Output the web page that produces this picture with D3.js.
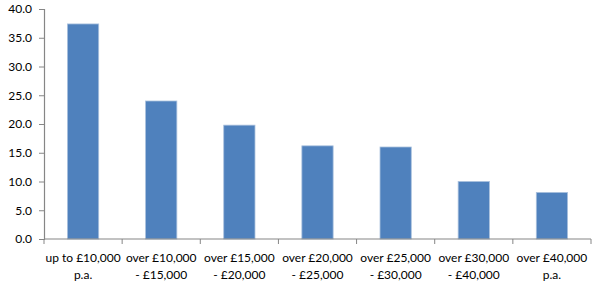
<!DOCTYPE html>
<html>
<head>
<meta charset="utf-8">
<script src="https://cdn.jsdelivr.net/npm/d3@7"></script>
<style>
  body { margin: 0; background: #fff; }
  svg text { font-family: Lato, "Open Sans", sans-serif; fill: #000; }
</style>
</head>
<body>
<div id="chart"></div>
<script>
const categories = [
    ["up to £10,000", "p.a."],
    ["over £10,000", "- £15,000"],
    ["over £15,000", "- £20,000"],
    ["over £20,000", "- £25,000"],
    ["over £25,000", "- £30,000"],
    ["over £30,000", "- £40,000"],
    ["over £40,000", "p.a."]
];
const values = [37.4, 24.0, 19.8, 16.2, 16.0, 10.0, 8.1];
const yTicks = [0, 5, 10, 15, 20, 25, 30, 35, 40];

const w = 601, h = 287;
const xLeft = 44, xRight = 591, yTop = 9, yBottom = 239;

const svg = d3.select("#chart").append("svg")
    .attr("width", w)
    .attr("height", h);

const xScale = d3.scaleBand()
    .domain(d3.range(categories.length))
    .range([xLeft, xRight])
    .paddingInner(0.6)
    .paddingOuter(0.3);

const yScale = d3.scaleLinear()
    .domain([0, 40])
    .range([yBottom, yTop]);

svg.selectAll("rect.bar")
    .data(values)
    .enter()
    .append("rect")
    .attr("class", "bar")
    .attr("x", (d, i) => xScale(i))
    .attr("y", d => yScale(d))
    .attr("width", xScale.bandwidth())
    .attr("height", d => yBottom - yScale(d))
    .style("fill", "#4f81bd")
    .style("stroke", "#a9c0dd")
    .style("stroke-width", 0.8);

const yAxis = d3.axisLeft(yScale)
    .tickValues(yTicks)
    .tickFormat(d3.format(".1f"))
    .tickSize(5)
    .tickPadding(7);

const gy = svg.append("g")
    .attr("transform", `translate(${xLeft},0)`)
    .call(yAxis);
gy.select(".domain").attr("stroke", "#868686").attr("stroke-width", 1.2);
gy.selectAll(".tick line").attr("stroke", "#868686");
gy.selectAll(".tick text").style("font-size", "12px");

// x axis: band boundaries as ticks
const bandStep = (xRight - xLeft) / categories.length;
const xLine = svg.append("g");
xLine.append("line")
    .attr("x1", xLeft).attr("x2", xRight)
    .attr("y1", yBottom).attr("y2", yBottom)
    .attr("stroke", "#868686").attr("stroke-width", 1.2);
xLine.selectAll("line.tick")
    .data(d3.range(categories.length + 1))
    .enter().append("line")
    .attr("class", "tick")
    .attr("x1", i => xLeft + i * bandStep)
    .attr("x2", i => xLeft + i * bandStep)
    .attr("y1", yBottom)
    .attr("y2", yBottom + 5)
    .attr("stroke", "#868686");

const labels = svg.selectAll("text.xlabel")
    .data(categories)
    .enter().append("text")
    .attr("class", "xlabel")
    .attr("text-anchor", "middle")
    .style("font-size", "12px");
labels.each(function (d, i) {
    const cx = xScale(i) + xScale.bandwidth() / 2;
    d.forEach((line, j) => {
        d3.select(this).append("tspan")
            .attr("x", cx)
            .attr("y", 262 + j * 17)
            .text(line);
    });
});
</script>
</body>
</html>
